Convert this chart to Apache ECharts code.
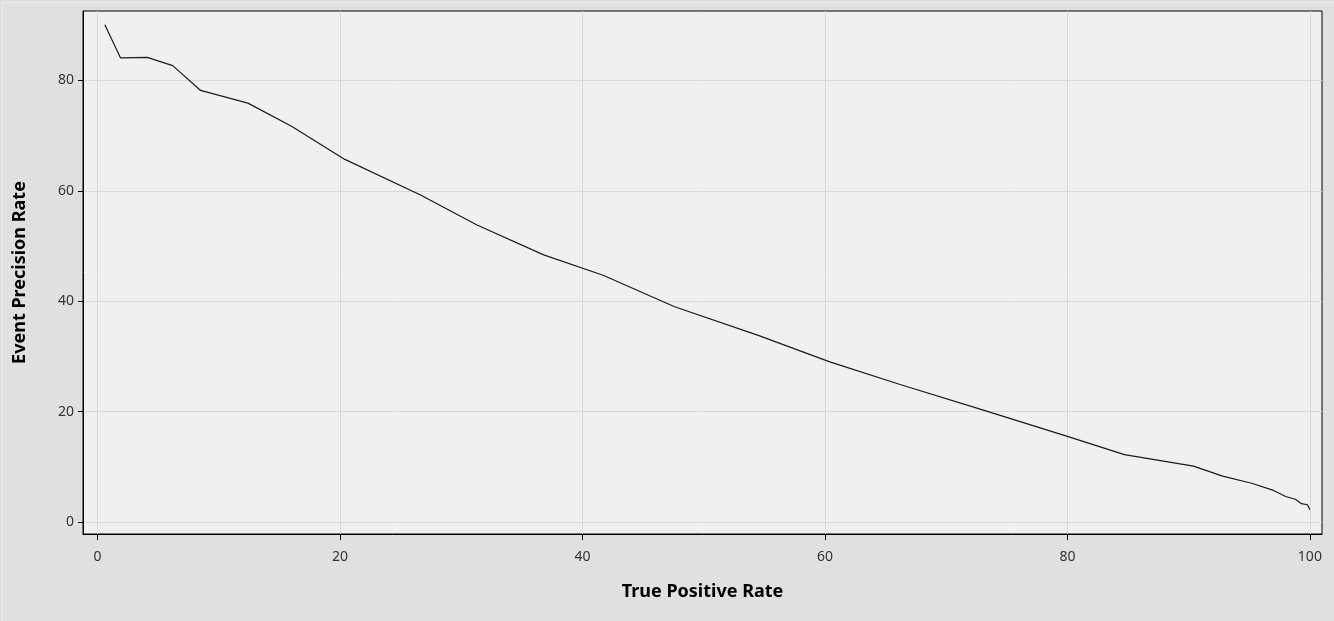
<!DOCTYPE html>
<html>
<head>
<meta charset="utf-8">
<script src="https://cdn.jsdelivr.net/npm/echarts@6/dist/echarts.min.js"></script>
<style>
  html, body { margin: 0; padding: 0; background: #e0e0e0; }
  #chart { width: 1334px; height: 621px; }
</style>
</head>
<body>
<div id="chart"></div>
<script>
const tprValues = [0.6, 1.9, 4.1, 6.2, 8.5, 12.4, 16.0, 20.4, 26.6, 31.3, 36.8, 41.7, 47.6, 54.5, 60.4, 66.2, 73.0, 80.0, 84.7, 90.4, 92.8, 95.2, 97.0, 98.0, 98.8, 99.3, 99.8, 100.0];
const precisionValues = [90.1, 84.1, 84.2, 82.7, 78.2, 75.9, 71.7, 65.7, 59.3, 53.8, 48.4, 44.7, 39.0, 33.8, 29.0, 24.9, 20.3, 15.5, 12.2, 10.1, 8.3, 7.0, 5.7, 4.6, 4.1, 3.3, 3.1, 2.2];
const xTicks = [0, 20, 40, 60, 80, 100];
const yTicks = [0, 20, 40, 60, 80];
const xTitle = 'True Positive Rate';
const yTitle = 'Event Precision Rate';

const points = tprValues.map((x, i) => [x, precisionValues[i]]);
const chart = echarts.init(document.getElementById('chart'), null, { renderer: 'canvas' });
const labelFont = { fontFamily: 'Noto Sans', fontSize: 14, color: '#333333' };
const titleFont = { fontFamily: 'Noto Sans', fontSize: 18, fontWeight: 'bold', color: '#000000' };
chart.setOption({
  backgroundColor: '#e0e0e0',
  animation: false,
  graphic: [{
    type: 'rect', left: 0, top: 0, z: -1,
    shape: { x: 0.5, y: 0.5, width: 1333, height: 620 },
    style: { fill: 'none', stroke: '#ececec', lineWidth: 1 }
  }],
  grid: {
    left: 83, top: 11, right: 12, bottom: 87,
    show: true, backgroundColor: '#f0f0f0', borderColor: '#000000', borderWidth: 1
  },
  xAxis: {
    type: 'value', min: -1.2, max: 101,
    name: xTitle, nameLocation: 'middle', nameGap: 49, nameTextStyle: titleFont,
    axisLine: { show: true, onZero: false, lineStyle: { color: '#000000' } },
    axisTick: { show: true, length: 6, customValues: xTicks, lineStyle: { color: '#000000' } },
    axisLabel: Object.assign({ customValues: xTicks, margin: 16, showMinLabel: true, showMaxLabel: true }, labelFont),
    splitLine: { show: true, lineStyle: { color: '#d8d8d8', width: 1 } }
  },
  yAxis: {
    type: 'value', min: -2.2, max: 92.6,
    name: yTitle, nameLocation: 'middle', nameGap: 54, nameTextStyle: titleFont,
    axisLine: { show: true, onZero: false, lineStyle: { color: '#000000' } },
    axisTick: { show: true, length: 5, customValues: yTicks, lineStyle: { color: '#000000' } },
    axisLabel: Object.assign({ customValues: yTicks, margin: 9 }, labelFont),
    splitLine: { show: true, lineStyle: { color: '#d8d8d8', width: 1 } }
  },
  series: [{
    type: 'line', data: points, showSymbol: false, symbol: 'none',
    lineStyle: { color: '#1a1a1a', width: 1.2 }, clip: true
  }]
});
</script>
</body>
</html>
